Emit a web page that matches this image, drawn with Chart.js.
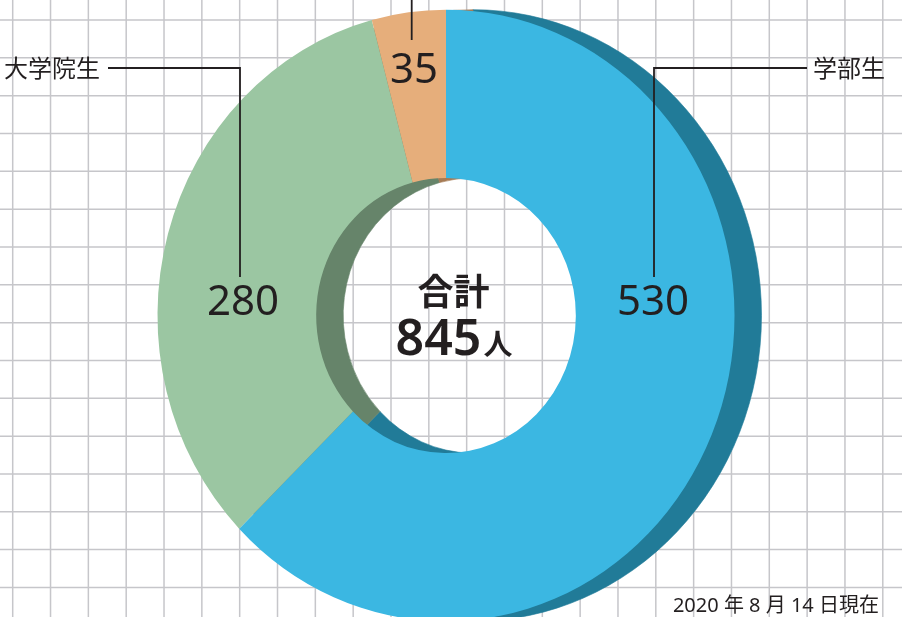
<!DOCTYPE html>
<html>
<head>
<meta charset="utf-8">
<script src="https://cdn.jsdelivr.net/npm/chart.js@4.4.1/dist/chart.umd.min.js"></script>
<style>
  html, body { margin: 0; padding: 0; background: #fff; }
  canvas { display: block; }
</style>
</head>
<body>
<canvas id="chart" width="902" height="617"></canvas>
<script>
/*------ DATA ------*/
const categories = ['学部生', '大学院生', '留学生'];
const counts = [530, 280, 35];
const totalLabel = '合計';
const totalUnit = '人';
const dateNote = '2020 年 8 月 14 日現在';

/*------ STYLE ------*/
const faceColors = ['#3bb7e2', '#9bc6a2', '#e6ae7b'];
const sideColors = ['#217b98', '#66846a', '#a67b55'];
const INK = '#231f20';
const DEPTH = 27;      // side of the ring shows to the right
const STRETCH = 1.06;  // ring is a little taller than wide
const JP = '"Noto Sans CJK JP", "Noto Sans", sans-serif';
const NUM = '"Noto Sans", "Noto Sans CJK JP", sans-serif';

// where each value sits (relative to ring centre) and how its leader runs
const callouts = [
  { dx: 207, base: 315, lineX: 654, lineTop: 68, lineBottom: 277, endX: 807, nameX: 813, align: 'left' },
  { dx: -203, base: 315, lineX: 240, lineTop: 68, lineBottom: 277, endX: 108, nameX: 100, align: 'right' },
  { dx: -32, base: 83, lineX: 411.7, lineTop: -5, lineBottom: 40, endX: null, nameX: null, align: 'left' }
];

/*------ BACKGROUND GRID ------*/
const gridPaper = {
  id: 'gridPaper',
  beforeDraw(chart) {
    const ctx = chart.ctx;
    ctx.save();
    ctx.fillStyle = '#fff';
    ctx.fillRect(0, 0, chart.width, chart.height);
    ctx.strokeStyle = '#c6c6ca';
    ctx.lineWidth = 1.5;
    const step = 37.83;
    ctx.beginPath();
    for (let x = 12.7; x < chart.width; x += step) {
      ctx.moveTo(x, 0);
      ctx.lineTo(x, chart.height);
    }
    for (let y = 20; y < chart.height; y += step) {
      ctx.moveTo(0, y);
      ctx.lineTo(chart.width, y);
    }
    ctx.stroke();
    ctx.restore();
  }
};

/*------ 3D SIDE OF THE RING ------*/
const ringSide = {
  id: 'ringSide',
  beforeDatasetsDraw(chart) {
    const ctx = chart.ctx;
    const arcs = chart.getDatasetMeta(0).data;
    const cx = arcs[0].x, cy = arcs[0].y;
    ctx.save();
    ctx.translate(cx, cy);
    ctx.scale(1, STRETCH);
    ctx.translate(-cx, -cy);
    arcs.forEach((arc, i) => {
      const p = arc.getProps(['x', 'y', 'startAngle', 'endAngle', 'innerRadius', 'outerRadius']);
      ctx.beginPath();
      ctx.arc(p.x + DEPTH, p.y, p.outerRadius, p.startAngle, p.endAngle);
      ctx.arc(p.x + DEPTH, p.y, p.innerRadius, p.endAngle, p.startAngle, true);
      ctx.closePath();
      ctx.fillStyle = sideColors[i];
      ctx.strokeStyle = sideColors[i];
      ctx.lineWidth = 0.6;
      ctx.fill();
      ctx.stroke();
    });
    // transform stays on for the front faces
  },
  afterDatasetsDraw(chart) {
    chart.ctx.restore();
  }
};

/*------ LABELS ------*/
const ringLabels = {
  id: 'ringLabels',
  afterDraw(chart) {
    const ctx = chart.ctx;
    const arc0 = chart.getDatasetMeta(0).data[0];
    const cx = arc0.x;
    ctx.save();
    ctx.fillStyle = INK;
    ctx.strokeStyle = INK;
    ctx.lineWidth = 1.8;

    counts.forEach((v, i) => {
      const c = callouts[i];
      ctx.font = '400 42px ' + NUM;
      ctx.textAlign = 'center';
      ctx.textBaseline = 'alphabetic';
      ctx.fillText(String(v), cx + c.dx, c.base);

      ctx.beginPath();
      ctx.moveTo(c.lineX, c.lineBottom);
      ctx.lineTo(c.lineX, c.lineTop);
      if (c.endX !== null) ctx.lineTo(c.endX, c.lineTop);
      ctx.stroke();

      if (c.nameX !== null) {
        ctx.font = '400 24px ' + JP;
        ctx.textAlign = c.align;
        ctx.fillText(categories[i], c.nameX, c.lineTop + 8.5);
      }
    });

    // total in the hole
    const total = counts.reduce((a, b) => a + b, 0);
    ctx.textAlign = 'center';
    ctx.font = 'bold 36px ' + JP;
    ctx.fillText(totalLabel, cx + 7.5, 305);
    ctx.font = '600 50px ' + NUM;
    const numW = ctx.measureText(String(total)).width;
    ctx.font = 'bold 29px ' + JP;
    const unitW = ctx.measureText(totalUnit).width;
    const left = cx + 8 - (numW + unitW + 2) / 2;
    ctx.textAlign = 'left';
    ctx.font = '600 50px ' + NUM;
    ctx.fillText(String(total), left, 355);
    ctx.font = 'bold 29px ' + JP;
    ctx.fillText(totalUnit, left + numW + 2, 355);

    // date note
    ctx.font = '400 20px ' + NUM;
    ctx.textAlign = 'right';
    ctx.fillText(dateNote, 879, 612);
    ctx.restore();
  }
};

const chart = document.querySelector('#chart').getContext('2d');

new Chart(chart, {
  type: 'doughnut',
  data: {
    labels: categories,
    datasets: [{
      data: counts,
      backgroundColor: faceColors,
      borderWidth: 0,
      hoverOffset: 0,
      clip: false
    }]
  },
  options: {
    responsive: false,
    animation: false,
    events: [],
    cutout: '45%',
    layout: {
      padding: { top: 27, bottom: 13, left: 100, right: 110 }
    },
    plugins: {
      legend: { display: false },
      tooltip: { enabled: false }
    }
  },
  plugins: [gridPaper, ringSide, ringLabels]
});
</script>
</body>
</html>
